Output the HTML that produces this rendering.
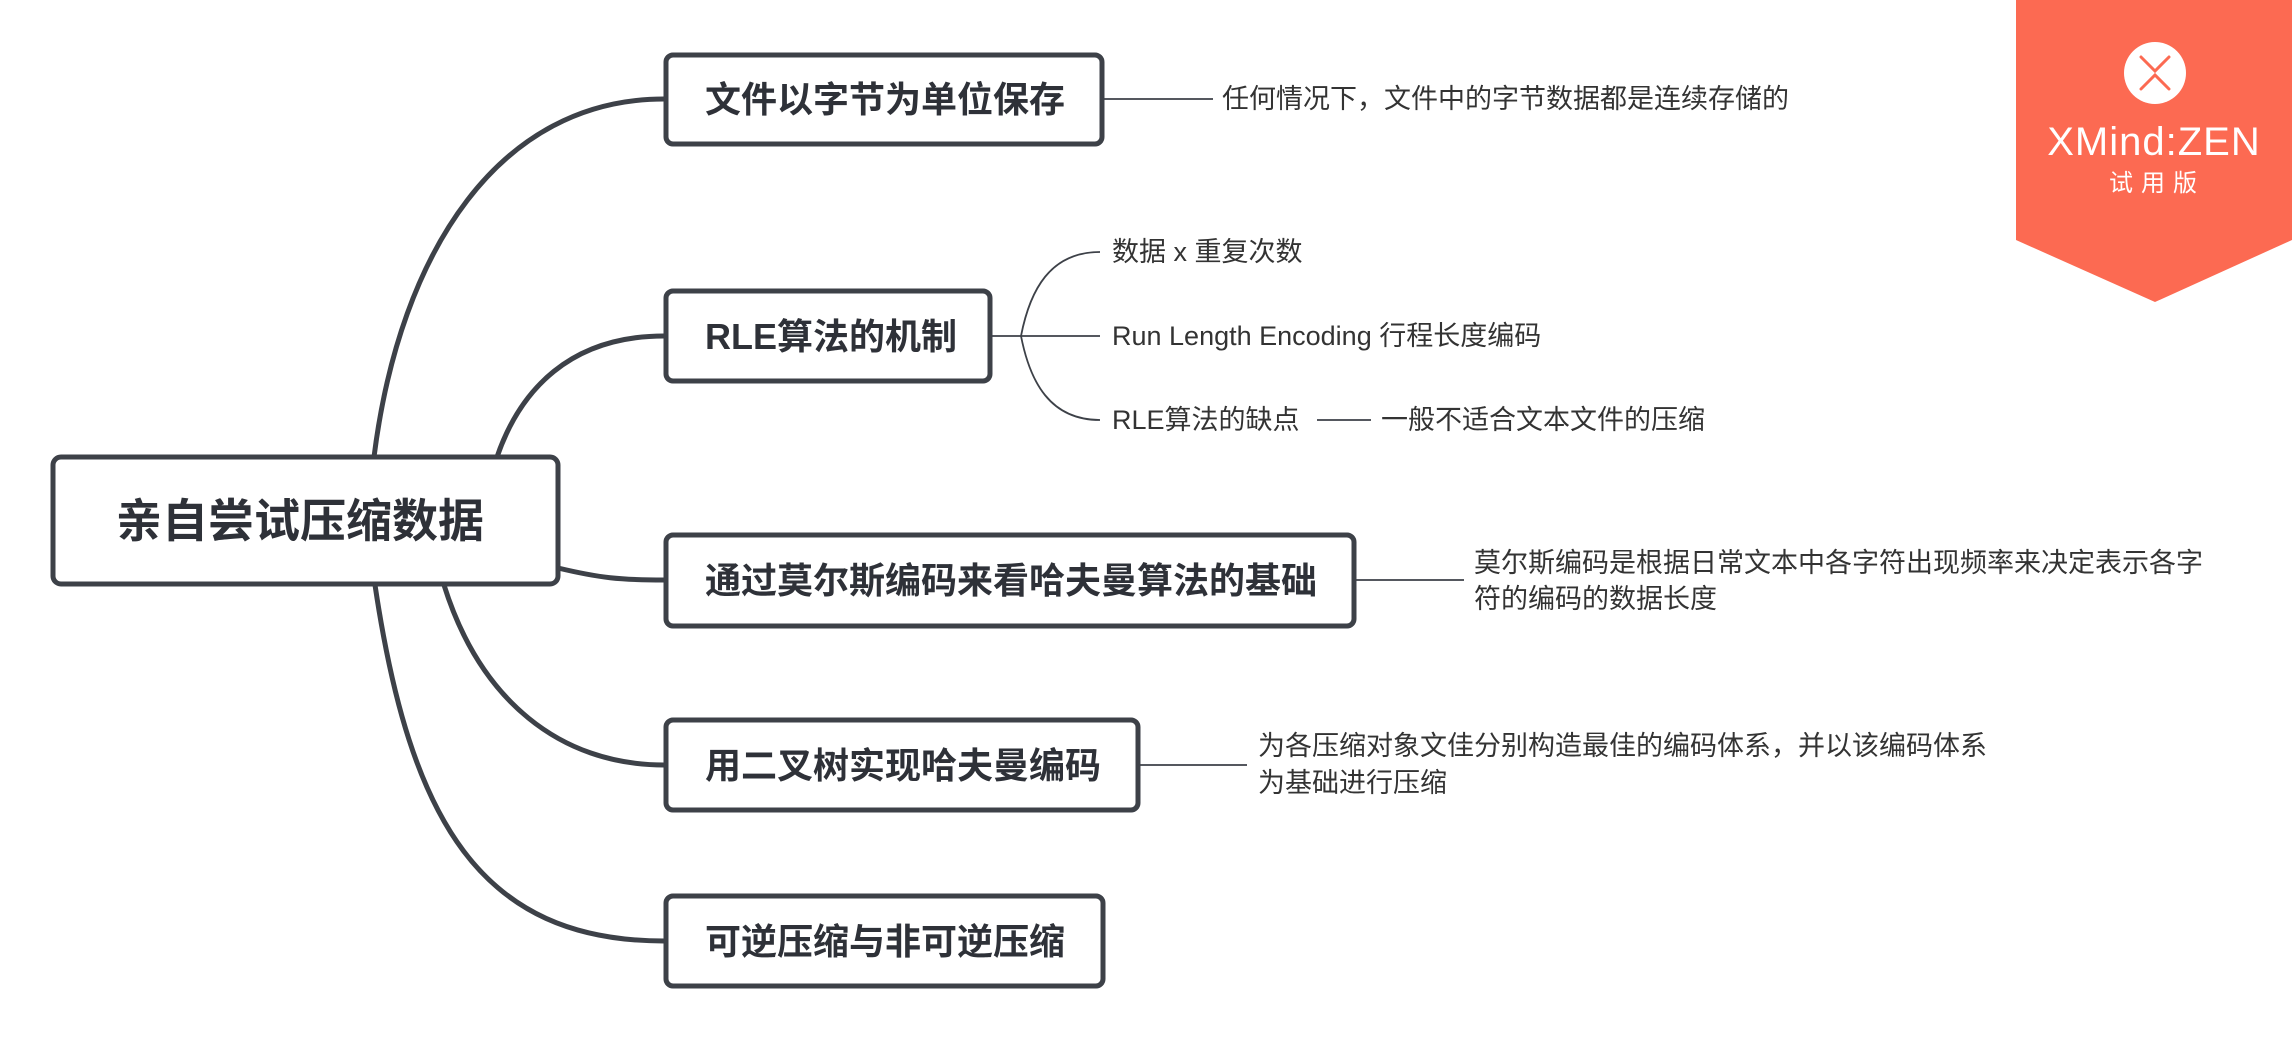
<!DOCTYPE html>
<html><head><meta charset="utf-8"><style>
html,body{margin:0;padding:0;background:#fff;}
svg{display:block;}
text{font-family:"Liberation Sans","Noto Sans CJK SC",sans-serif;}
.t1{font-size:36px;font-weight:bold;fill:#2e3138;}
.t2{font-size:27px;fill:#333;}
</style></head><body>
<svg width="2292" height="1042" viewBox="0 0 2292 1042" xmlns="http://www.w3.org/2000/svg">
<g fill="none" stroke="#3d4148" stroke-width="5" stroke-linecap="round">
<path d="M374 457 C 400 250, 500 99, 664 99"/>
<path d="M497 457 C 520 390, 570 336, 664 336"/>
<path d="M558 568 C 600 578, 620 580, 664 580"/>
<path d="M444 585 C 480 700, 560 765, 664 765"/>
<path d="M375 585 C 410 820, 480 941, 664 941"/>
</g>
<g fill="none" stroke="#3d4148" stroke-width="1.8">
<line x1="1104" y1="99" x2="1213" y2="99"/>
<line x1="992" y1="336" x2="1100" y2="336"/>
<path d="M1100 252 C 1050 252, 1030 290, 1021 336 C 1030 382, 1050 420, 1100 420"/>
<line x1="1317" y1="420" x2="1371" y2="420"/>
<line x1="1356" y1="580" x2="1464" y2="580"/>
<line x1="1140" y1="765" x2="1247" y2="765"/>
</g>
<g fill="#fff" stroke="#3d4148" stroke-width="5">
<rect x="53" y="457" width="505" height="127" rx="8"/>
<rect x="666" y="55" width="436" height="89" rx="7"/>
<rect x="666" y="291" width="324" height="90" rx="7"/>
<rect x="666" y="535" width="688" height="91" rx="7"/>
<rect x="666" y="720" width="472" height="90" rx="7"/>
<rect x="666" y="896" width="437" height="90" rx="7"/>
</g>
<text x="116" y="537" style="font-size:46px;font-weight:bold;fill:#2e3138">亲自尝试压缩数据</text>
<text class="t1" x="705" y="112">文件以字节为单位保存</text>
<text class="t1" x="705" y="349">RLE算法的机制</text>
<text class="t1" x="705" y="593">通过莫尔斯编码来看哈夫曼算法的基础</text>
<text class="t1" x="705" y="778">用二叉树实现哈夫曼编码</text>
<text class="t1" x="705" y="954">可逆压缩与非可逆压缩</text>
<text class="t2" x="1222" y="108">任何情况下，文件中的字节数据都是连续存储的</text>
<text class="t2" x="1112" y="261">数据 x 重复次数</text>
<text class="t2" x="1112" y="345">Run Length Encoding 行程长度编码</text>
<text class="t2" x="1112" y="429">RLE算法的缺点</text>
<text class="t2" x="1381" y="429">一般不适合文本文件的压缩</text>
<text class="t2" x="1474" y="572">莫尔斯编码是根据日常文本中各字符出现频率来决定表示各字</text>
<text class="t2" x="1474" y="608">符的编码的数据长度</text>
<text class="t2" x="1258" y="755">为各压缩对象文佳分别构造最佳的编码体系，并以该编码体系</text>
<text class="t2" x="1258" y="792">为基础进行压缩</text>
<polygon points="2016,0 2292,0 2292,240 2155,302 2016,240" fill="#fc6a52"/>
<circle cx="2155" cy="73" r="31" fill="#fff"/>
<g stroke="#fc6a52" stroke-width="3" fill="none" stroke-linecap="round">
<path d="M2141 57 L2155 71 L2169 57"/><path d="M2141 89 L2155 75 L2169 89"/>
</g>
<text x="2154" y="155" text-anchor="middle" style="font-size:40px;fill:#fff;font-weight:300;letter-spacing:1px">XMind:ZEN</text>
<text x="2157" y="191" text-anchor="middle" style="font-size:24px;fill:#fff;letter-spacing:8px">试用版</text>
</svg>
</body></html>
